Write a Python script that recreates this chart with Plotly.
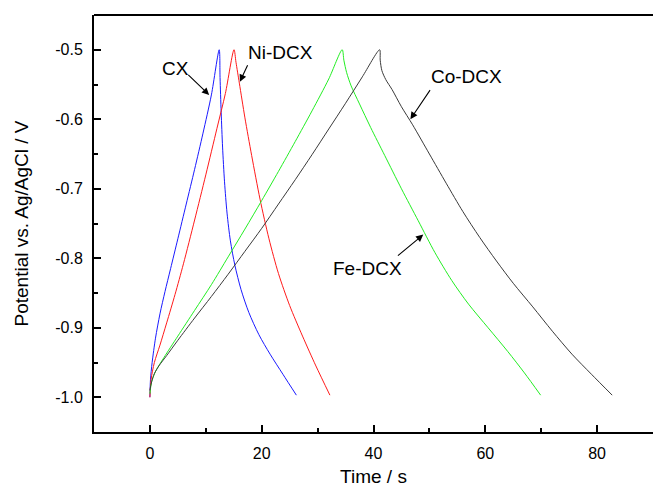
import plotly.graph_objects as go

# Galvanostatic charge/discharge curves (time in s, potential in V vs. Ag/AgCl)
cx_t = [0, 0.1, 0.4, 1.0, 1.8, 2.7, 3.7, 5.0, 6.5, 8.0, 9.5, 11.0, 12.4,
        12.55, 12.75, 13.0, 13.35, 13.8, 14.4, 15.2, 16.3, 17.7, 19.5, 21.5, 23.8, 26.2]
cx_v = [-1.0, -0.975, -0.950, -0.915, -0.880, -0.848, -0.815, -0.772, -0.722, -0.672, -0.620, -0.565, -0.5,
        -0.540, -0.590, -0.640, -0.690, -0.735, -0.775, -0.810, -0.845, -0.878, -0.910, -0.938, -0.967, -0.997]

ni_t = [0, 0.2, 0.8, 1.8, 3.0, 4.5, 6.0, 8.0, 10.0, 12.0, 13.5, 15.05,
        15.4, 16.0, 17.0, 18.2, 19.7, 21.3, 23.0, 25.0, 27.3, 29.7, 32.2]
ni_v = [-1.0, -0.975, -0.950, -0.925, -0.893, -0.852, -0.808, -0.745, -0.680, -0.613, -0.563, -0.5,
        -0.518, -0.548, -0.598, -0.652, -0.715, -0.772, -0.822, -0.868, -0.912, -0.955, -0.997]

fe_t = [0, 0.3, 1.0, 2.5, 5.0, 8.0, 11.0, 14.0, 17.0, 20.0, 23.0, 26.0, 29.0, 32.0, 34.4,
        34.7, 35.2, 36.0, 37.5, 39.5, 42.0, 45.0, 48.0, 51.0, 54.0, 57.0, 60.5, 64.0, 67.0, 69.9]
fe_v = [-0.995, -0.978, -0.963, -0.943, -0.912, -0.875, -0.838, -0.798, -0.758, -0.717, -0.675, -0.632,
        -0.588, -0.542, -0.5,
        -0.515, -0.533, -0.552, -0.578, -0.612, -0.652, -0.700, -0.746, -0.792, -0.832, -0.866, -0.900,
        -0.934, -0.965, -0.997]

co_t = [0, 0.3, 0.8, 1.6, 3.0, 5.0, 8.0, 11.0, 14.0, 17.0, 20.0, 23.0, 26.0, 29.0, 32.0, 35.0, 38.0, 41.1,
        41.2, 41.5, 42.2, 43.3, 45.0, 47.0, 50.0, 53.0, 56.0, 59.0, 62.0, 65.0, 68.5, 72.0, 75.5, 79.0, 82.7]
co_v = [-0.990, -0.978, -0.966, -0.955, -0.940, -0.918, -0.886, -0.855, -0.823, -0.790, -0.757, -0.722,
        -0.687, -0.651, -0.614, -0.577, -0.539, -0.5,
        -0.515, -0.530, -0.543, -0.557, -0.582, -0.608, -0.650, -0.692, -0.733, -0.770, -0.804, -0.836,
        -0.870, -0.905, -0.938, -0.967, -0.997]

series_names = ["CX", "Ni-DCX", "Fe-DCX", "Co-DCX"]
series_colors = ["#1a1aff", "#ff1a1a", "#22ee22", "#3a3a3a"]

x_tick_vals = [0, 20, 40, 60, 80]
x_tick_text = ["0", "20", "40", "60", "80"]
y_tick_vals = [-1.0, -0.9, -0.8, -0.7, -0.6, -0.5]
y_tick_text = ["-1.0", "-0.9", "-0.8", "-0.7", "-0.6", "-0.5"]

# Label text position and arrow (tail -> head) for each curve, in data units
label_pos = {
    "CX": (4.65, -0.527),
    "Ni-DCX": (23.3, -0.504),
    "Fe-DCX": (39.0, -0.815),
    "Co-DCX": (56.7, -0.539),
}
arrow_tail = {
    "CX": (6.6, -0.534),
    "Ni-DCX": (17.6, -0.520),
    "Fe-DCX": (44.1, -0.798),
    "Co-DCX": (50.3, -0.556),
}
arrow_head = {
    "CX": (10.6, -0.565),
    "Ni-DCX": (16.1, -0.546),
    "Fe-DCX": (48.9, -0.766),
    "Co-DCX": (46.6, -0.600),
}

FONT = "Arial, Liberation Sans, sans-serif"

fig = go.Figure()
for name, t, v, c in zip(series_names, [cx_t, ni_t, fe_t, co_t], [cx_v, ni_v, fe_v, co_v], series_colors):
    fig.add_trace(go.Scatter(x=t, y=v, mode="lines", name=name,
                             line=dict(color=c, width=1, shape="spline", smoothing=0.8)))

for name in series_names:
    lx, ly = label_pos[name]
    fig.add_annotation(x=lx, y=ly, text=name, showarrow=False,
                       font=dict(family=FONT, size=19, color="black"))
    tx, ty = arrow_tail[name]
    hx, hy = arrow_head[name]
    fig.add_annotation(x=hx, y=hy, ax=tx, ay=ty, axref="x", ayref="y", xref="x", yref="y",
                       text="", showarrow=True, arrowhead=2, arrowsize=1.3, arrowwidth=1.1,
                       arrowcolor="black", standoff=0, startstandoff=0)

# top frame line (no right spine)
fig.add_shape(type="line", xref="paper", yref="paper", x0=0, x1=1, y0=1, y1=1,
              line=dict(color="black", width=2))

fig.update_layout(
    width=653, height=487,
    margin=dict(l=94, r=0, t=15, b=55),
    paper_bgcolor="white", plot_bgcolor="white",
    showlegend=False,
    font=dict(family=FONT, size=16, color="black"),
)
fig.update_xaxes(
    range=[-10, 90], showgrid=False, zeroline=False,
    showline=True, linecolor="black", linewidth=2,
    ticks="inside", ticklen=7, tickwidth=1.5, tickcolor="black",
    tickvals=x_tick_vals, ticktext=x_tick_text,
    minor=dict(tickvals=[10, 30, 50, 70, 90], ticks="inside", ticklen=4, tickwidth=1.5, tickcolor="black"),
    tickfont=dict(family=FONT, size=16, color="black"),
    ticklabelstandoff=6,
    title=dict(text="Time / s", font=dict(family=FONT, size=19, color="black"), standoff=12),
)
fig.update_yaxes(
    range=[-1.05, -0.45], showgrid=False, zeroline=False,
    showline=True, linecolor="black", linewidth=2,
    ticks="inside", ticklen=7, tickwidth=1.5, tickcolor="black",
    tickvals=y_tick_vals, ticktext=y_tick_text,
    minor=dict(tickvals=[-1.05, -0.95, -0.85, -0.75, -0.65, -0.55, -0.45], ticks="inside",
               ticklen=4, tickwidth=1.5, tickcolor="black"),
    tickfont=dict(family=FONT, size=16, color="black"),
    ticklabelstandoff=6,
    title=dict(text="Potential vs. Ag/AgCl / V", font=dict(family=FONT, size=19, color="black"), standoff=22),
)

fig.write_html("out.html")
